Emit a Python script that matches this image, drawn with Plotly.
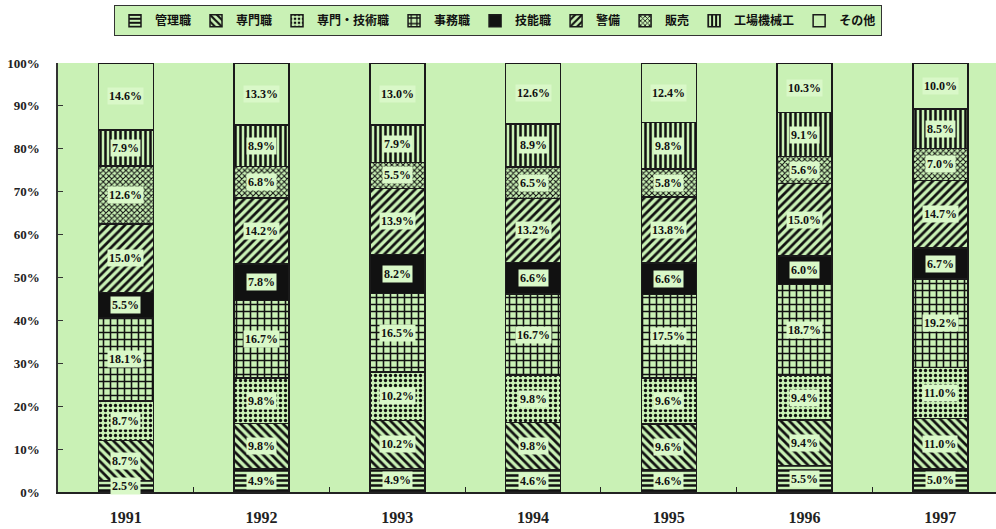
import plotly.graph_objects as go

years = ["1991", "1992", "1993", "1994", "1995", "1996", "1997"]
categories = ["管理職", "専門職", "専門・技術職", "事務職", "技能職", "警備", "販売", "工場機械工", "その他"]

kanri = [2.5, 4.9, 4.9, 4.6, 4.6, 5.5, 5.0]
senmon = [8.7, 9.8, 10.2, 9.8, 9.6, 9.4, 11.0]
senmon_gijutsu = [8.7, 9.8, 10.2, 9.8, 9.6, 9.4, 11.0]
jimu = [18.1, 16.7, 16.5, 16.7, 17.5, 18.7, 19.2]
gino = [5.5, 7.8, 8.2, 6.6, 6.6, 6.0, 6.7]
keibi = [15.0, 14.2, 13.9, 13.2, 13.8, 15.0, 14.7]
hanbai = [12.6, 6.8, 5.5, 6.5, 5.8, 5.6, 7.0]
kojo = [7.9, 8.9, 7.9, 8.9, 9.8, 9.1, 8.5]
sonota = [14.6, 13.3, 13.0, 12.6, 12.4, 10.3, 10.0]

y_ticks = [0, 10, 20, 30, 40, 50, 60, 70, 80, 90, 100]
y_tick_text = ["0%", "10%", "20%", "30%", "40%", "50%", "60%", "70%", "80%", "90%", "100%"]

series = [kanri, senmon, senmon_gijutsu, jimu, gino, keibi, hanbai, kojo, sonota]
patterns = ["-", "\\", ".", "+", "", "/", "x", "|", ""]
sizes = [5, 6, 5, 7, 6, 6, 4, 5, 6]
solid = [0.5, 0.45, 0.35, 0.4, 0.5, 0.45, 0.45, 0.5, 0.5]
GREEN = "#c9f1b5"
LABEL_BG = "#d9f8c8"
fills = [GREEN, GREEN, GREEN, GREEN, "#111111", GREEN, GREEN, GREEN, GREEN]

fig = go.Figure()
for name, vals, pat, fc, sz, so in zip(categories, series, patterns, fills, sizes, solid):
    fig.add_trace(go.Bar(
        x=years, y=vals, name=name, width=0.405,
        marker=dict(color=fc, line=dict(color="#1a1a1a", width=1.5),
                    pattern=dict(shape=pat, fgcolor="#111111", bgcolor=fc, fgopacity=1,
                                 size=sz, solidity=so)),
        hoverinfo="skip",
    ))

# labels positioned at normalised segment centres
totals = [sum(s[i] for s in series) for i in range(len(years))]
for i, yr in enumerate(years):
    cum = 0.0
    for s in series:
        v = s[i]
        h = v / totals[i] * 100
        fig.add_annotation(x=i, y=cum + h / 2, xref="x", yref="y", text=f"{v:.1f}%", showarrow=False,
                           font=dict(family="Liberation Serif", size=12, color="#111111", weight="bold"),
                           bgcolor=LABEL_BG, borderpad=1)
        cum += h

fig.update_layout(
    barmode="stack", barnorm="percent",
    width=996, height=529,
    margin=dict(l=58, r=0, t=63, b=37),
    paper_bgcolor="white", plot_bgcolor=GREEN,
    showlegend=True,
    legend=dict(orientation="h", x=0.5, xanchor="center", xref="container",
                y=0.99, yanchor="top", yref="container",
                bgcolor=GREEN, bordercolor="#333333", borderwidth=1,
                font=dict(family="Noto Sans CJK JP", size=12, color="#111111", weight="bold"),
                itemwidth=30, traceorder="normal", entrywidth=0),
    xaxis=dict(type="category", range=[-0.5, 6.41], showline=True, linecolor="#222222", linewidth=2,
               ticks="inside", tickson="boundaries", ticklen=5, tickcolor="#222222",
               showgrid=False, ticklabelstandoff=10,
               tickfont=dict(family="Liberation Serif", size=16, color="#222222", weight="bold")),
    yaxis=dict(range=[0, 100], tickvals=y_ticks, ticktext=y_tick_text, showline=True,
               linecolor="#333333", linewidth=1.5, ticks="inside", ticklen=5, tickcolor="#333333",
               showgrid=False, zeroline=False, ticklabelstandoff=14,
               tickfont=dict(family="Liberation Serif", size=13, color="#222222", weight="bold")),
)

fig.write_html("out.html")
